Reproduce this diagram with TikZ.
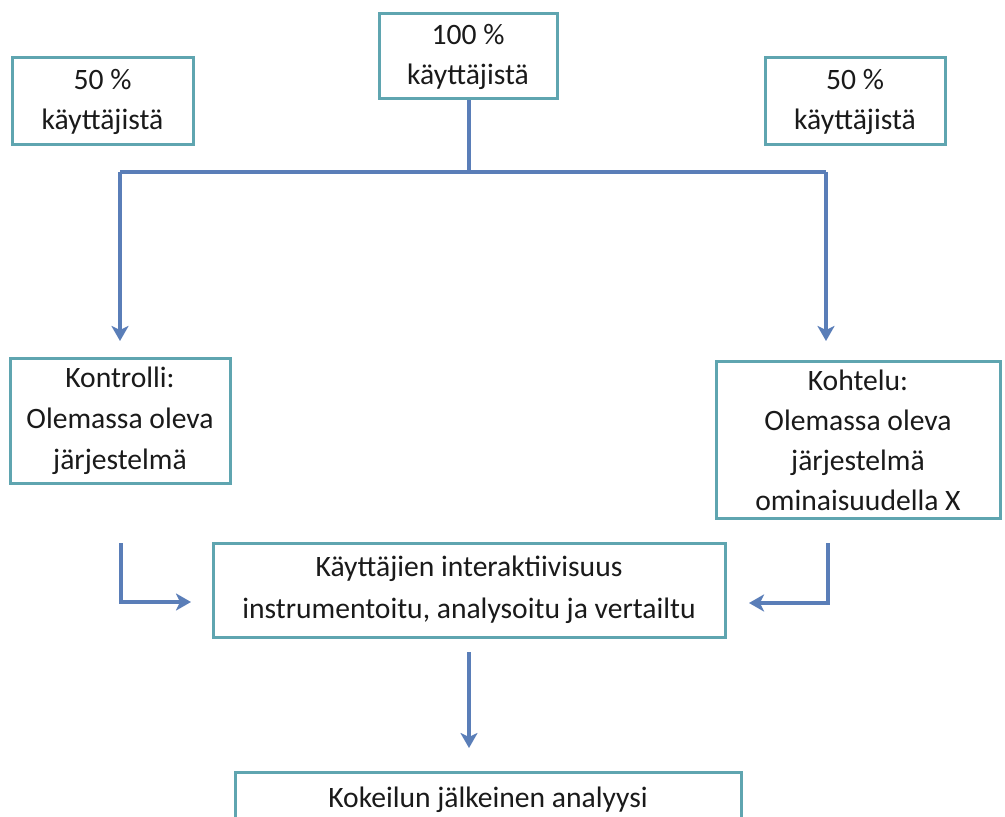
\documentclass[tikz,border=0pt]{standalone}
\usepackage{fontspec}
\setmainfont{Carlito}
\usetikzlibrary{arrows.meta}
\definecolor{boxline}{HTML}{5FA5B0}
\definecolor{arrowc}{HTML}{5A7EB8}
\definecolor{txt}{HTML}{1A1A1A}
\tikzset{
  flowbox/.style={draw=boxline, line width=1.5pt, fill=white, align=center, text=txt,
    font=\fontsize{14.8}{20}\selectfont, inner sep=0pt},
  conn/.style={draw=arrowc, line width=1.7pt},
  arr/.style={conn, -{Stealth[length=7.5pt,width=8.5pt,inset=2pt]}}
}
\begin{document}
\begin{tikzpicture}[x=0.5pt,y=-0.5pt]
\useasboundingbox (0,0) rectangle (1005,817);
\node[flowbox, minimum width=89pt, minimum height=42.5pt] (top) at (468,56.5) {100 \%\\käyttäjistä};
\node[flowbox, minimum width=90.5pt, minimum height=43.5pt] (lhalf) at (102.5,101.5) {50 \%\\käyttäjistä};
\node[flowbox, minimum width=90pt, minimum height=43.5pt] (rhalf) at (855,101.5) {50 \%\\käyttäjistä};
\node[flowbox, minimum width=110pt, minimum height=62.5pt, font=\fontsize{14.8}{20.5}\selectfont] (ctrl) at (120,421) {Kontrolli:\\Olemassa oleva\\järjestelmä};
\node[flowbox, minimum width=142pt, minimum height=78.5pt] (treat) at (858,440) {Kohtelu:\\Olemassa oleva\\järjestelmä\\ominaisuudella X};
\node[flowbox, minimum width=256pt, minimum height=47pt, font=\fontsize{14.8}{21}\selectfont] (mid) at (469,590) {Käyttäjien interaktiivisuus\\instrumentoitu, analysoitu ja vertailtu};
\node[flowbox, minimum width=253pt, minimum height=28pt] (bot) at (488,800) {Kokeilun jälkeinen analyysi};

\coordinate (j) at (469,172);
\coordinate (jl) at (120,172);
\coordinate (jr) at (826,172);
\coordinate (tl) at (120,341);
\coordinate (tr) at (826,341);
\coordinate (ls) at (121,543);
\coordinate (lc) at (121,602);
\coordinate (lt) at (191,602);
\coordinate (rs) at (828,543);
\coordinate (rc) at (828,603);
\coordinate (rt) at (749,603);
\coordinate (ds) at (469,652);
\coordinate (dt) at (469,748);

\draw[conn] (top.south -| j) -- (j);
\draw[conn] (jl) -- (jr);
\draw[arr] (jl) -- (tl);
\draw[arr] (jr) -- (tr);
\draw[arr] (ls) -- (lc) -- (lt);
\draw[arr] (rs) -- (rc) -- (rt);
\draw[arr] (ds) -- (dt);
\end{tikzpicture}
\end{document}
